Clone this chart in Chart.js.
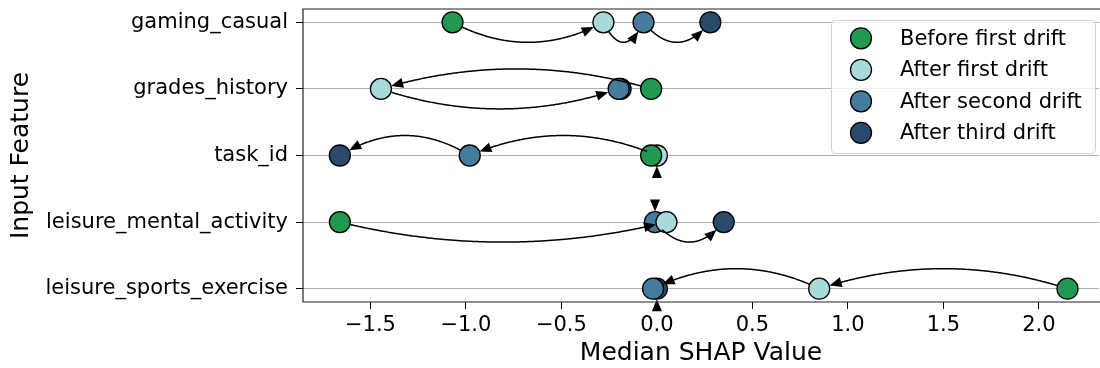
<!DOCTYPE html>
<html lang="en">
<head>
    <meta charset="UTF-8">
    <title>Median SHAP Value per drift</title>
    <style>
        body {
            margin: 0;
            padding: 0;
            background-color: #ffffff;
        }

        .chart-container {
            width: 1100px;
            height: 368px;
        }
    </style>
</head>
<body>
    <div class="chart-container">
        <canvas id="shapChart" width="1100" height="368"></canvas>
    </div>

    <script src="https://cdn.jsdelivr.net/npm/chart.js"></script>
    <script>
        const features = ['gaming_casual', 'grades_history', 'task_id', 'leisure_mental_activity', 'leisure_sports_exercise'];
        const seriesNames = ['Before first drift', 'After first drift', 'After second drift', 'After third drift'];
        const seriesColors = ['#1f9a50', '#a8dadc', '#457b9d', '#2a4a6b'];

        const beforeFirst = [-1.07, -0.03, -0.03, -1.66, 2.15];
        const afterFirst = [-0.28, -1.445, 0.0, 0.05, 0.85];
        const afterSecond = [-0.07, -0.20, -0.98, -0.01, -0.02];
        const afterThird = [0.28, -0.19, -1.66, 0.35, 0.0];

        const xTicks = [-1.5, -1.0, -0.5, 0.0, 0.5, 1.0, 1.5, 2.0];

        const FONT = 'DejaVu Sans';
        const R = 10.5;

        const allSeries = [beforeFirst, afterFirst, afterSecond, afterThird];

        const datasets = allSeries.map(function(values, k) {
            return {
                label: seriesNames[k],
                data: values.map(function(v, i) { return { x: v, y: i }; }),
                backgroundColor: seriesColors[k],
                borderColor: '#000000',
                borderWidth: 1.3,
                pointRadius: R,
                pointHoverRadius: R
            };
        });

        function quad(p0, c, p1, t) {
            const u = 1 - t;
            return {
                x: u * u * p0.x + 2 * u * t * c.x + t * t * p1.x,
                y: u * u * p0.y + 2 * u * t * c.y + t * t * p1.y
            };
        }

        function drawHead(ctx, tip, dir) {
            const len = 12, half = 5;
            const bx = tip.x - dir.x * len, by = tip.y - dir.y * len;
            ctx.beginPath();
            ctx.moveTo(tip.x, tip.y);
            ctx.lineTo(bx - dir.y * half, by + dir.x * half);
            ctx.lineTo(bx + dir.y * half, by - dir.x * half);
            ctx.closePath();
            ctx.fill();
        }

        // curved arrows between consecutive drifts, frame and legend
        const arrowPlugin = {
            id: 'arrows',
            afterDatasetsDraw(chart) {
                const ctx = chart.ctx;
                const xs = chart.scales.x, ys = chart.scales.y;
                ctx.save();
                ctx.strokeStyle = '#000';
                ctx.fillStyle = '#000';
                ctx.lineWidth = 1.5;
                for (let i = 0; i < features.length; i++) {
                    for (let k = 0; k < allSeries.length - 1; k++) {
                        const p0 = { x: xs.getPixelForValue(allSeries[k][i]), y: ys.getPixelForValue(i) };
                        const p1 = { x: xs.getPixelForValue(allSeries[k + 1][i]), y: ys.getPixelForValue(i) };
                        const dx = p1.x - p0.x, dy = p1.y - p0.y;
                        const dist = Math.hypot(dx, dy);
                        if (dist < 3) continue;
                        const n = { x: -dy / dist, y: dx / dist };
                        if (dist < 2 * R) {
                            const tip = { x: p1.x + n.x * R, y: p1.y + n.y * R };
                            drawHead(ctx, tip, { x: -n.x, y: -n.y });
                            continue;
                        }
                        const c = { x: (p0.x + p1.x) / 2 + n.x * 40, y: (p0.y + p1.y) / 2 + n.y * 40 };
                        let t0 = 0, t1 = 1;
                        while (t0 < 1) {
                            const q = quad(p0, c, p1, t0);
                            if (Math.hypot(q.x - p0.x, q.y - p0.y) >= R) break;
                            t0 += 0.002;
                        }
                        while (t1 > 0) {
                            const q = quad(p0, c, p1, t1);
                            if (Math.hypot(q.x - p1.x, q.y - p1.y) >= R) break;
                            t1 -= 0.002;
                        }
                        const tip = quad(p0, c, p1, t1);
                        const prev = quad(p0, c, p1, t1 - 0.01);
                        const dl = Math.hypot(tip.x - prev.x, tip.y - prev.y);
                        const dir = { x: (tip.x - prev.x) / dl, y: (tip.y - prev.y) / dl };
                        ctx.beginPath();
                        let first = true;
                        for (let t = t0; t <= t1; t += 0.005) {
                            const q = quad(p0, c, p1, t);
                            if (Math.hypot(q.x - tip.x, q.y - tip.y) < 9) break;
                            if (first) { ctx.moveTo(q.x, q.y); first = false; } else ctx.lineTo(q.x, q.y);
                        }
                        ctx.lineTo(tip.x - dir.x * 9, tip.y - dir.y * 9);
                        ctx.stroke();
                        drawHead(ctx, tip, dir);
                    }
                }
                ctx.restore();
            },
            afterDraw(chart) {
                const ctx = chart.ctx;
                const a = chart.chartArea;
                ctx.save();
                // spines: left, top, bottom (right one falls outside the picture)
                ctx.strokeStyle = '#222';
                ctx.lineWidth = 1.2;
                ctx.beginPath();
                ctx.moveTo(1100, a.top);
                ctx.lineTo(a.left, a.top);
                ctx.lineTo(a.left, a.bottom);
                ctx.lineTo(1100, a.bottom);
                ctx.stroke();

                // legend
                const lx = 831, ly = 20, lw = 264, lh = 133;
                ctx.beginPath();
                ctx.roundRect(lx + 0.5, ly + 0.5, lw, lh, 4);
                ctx.fillStyle = 'rgba(255,255,255,0.8)';
                ctx.fill();
                ctx.strokeStyle = '#d0d0d0';
                ctx.lineWidth = 1;
                ctx.stroke();
                ctx.font = '21px "' + FONT + '"';
                ctx.textBaseline = 'middle';
                for (let k = 0; k < seriesNames.length; k++) {
                    const yy = 38.3 + k * 31.5;
                    ctx.beginPath();
                    ctx.arc(861, yy, R, 0, Math.PI * 2);
                    ctx.fillStyle = seriesColors[k];
                    ctx.fill();
                    ctx.strokeStyle = '#000';
                    ctx.lineWidth = 1.3;
                    ctx.stroke();
                    ctx.fillStyle = '#000';
                    ctx.fillText(seriesNames[k], 900, yy + 1);
                }
                ctx.restore();
            }
        };

        const config = {
            type: 'scatter',
            data: { datasets: datasets },
            options: {
                responsive: false,
                animation: false,
                events: [],
                layout: { autoPadding: false, padding: { top: 9, right: 1, left: 0, bottom: 0 } },
                plugins: {
                    legend: { display: false },
                    tooltip: { enabled: false }
                },
                scales: {
                    x: {
                        type: 'linear',
                        min: -1.853,
                        max: 2.315,
                        afterBuildTicks: function(scale) {
                            scale.ticks = xTicks.map(function(v) { return { value: v }; });
                        },
                        afterFit: function(scale) {
                            scale.height = 66;
                            scale.paddingLeft = 0;
                            scale.paddingRight = 0;
                        },
                        grid: { drawOnChartArea: false, tickLength: 7, tickColor: '#000', color: '#000' },
                        border: { display: false },
                        ticks: {
                            color: '#000',
                            padding: 4,
                            maxRotation: 0,
                            font: { family: FONT, size: 21 },
                            callback: function(v) {
                                return (v < 0 ? '\u2212' : '') + Math.abs(v).toFixed(1);
                            }
                        },
                        title: {
                            display: true,
                            text: 'Median SHAP Value',
                            color: '#000',
                            padding: { top: 0, bottom: 0 },
                            font: { family: FONT, size: 25 }
                        }
                    },
                    y: {
                        type: 'linear',
                        reverse: true,
                        min: -0.2,
                        max: 4.2,
                        afterBuildTicks: function(scale) {
                            scale.ticks = features.map(function(f, i) { return { value: i }; });
                        },
                        afterFit: function(scale) {
                            scale.width = 303;
                            scale.paddingTop = 0;
                            scale.paddingBottom = 0;
                        },
                        grid: { color: '#b0b0b0', lineWidth: 1, tickLength: 7, tickColor: '#000' },
                        border: { display: false },
                        ticks: {
                            color: '#000',
                            padding: 8,
                            font: { family: FONT, size: 21 },
                            callback: function(v) { return features[v]; }
                        },
                        title: {
                            display: true,
                            text: 'Input Feature',
                            color: '#000',
                            padding: { top: 6, bottom: 0 },
                            font: { family: FONT, size: 25 }
                        }
                    }
                }
            },
            plugins: [arrowPlugin]
        };

        window.onload = function() {
            const ctx = document.getElementById('shapChart').getContext('2d');
            new Chart(ctx, config);
        };
    </script>
</body>
</html>
